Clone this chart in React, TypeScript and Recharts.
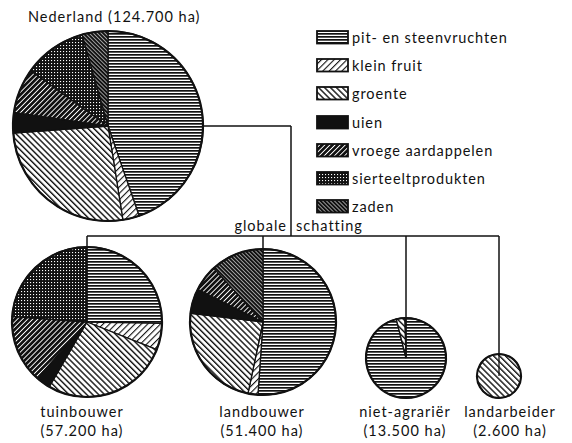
import { Legend, Pie, PieChart, Cell } from 'recharts';

const categories = [
    'pit- en steenvruchten',
    'klein fruit',
    'groente',
    'uien',
    'vroege aardappelen',
    'sierteeltprodukten',
    'zaden',
];
const patternIds = ['pit', 'klein', 'groente', 'uien', 'vroege', 'sierteelt', 'zaden'];

// shares in %
const nederland = [44.7, 2.8, 26.3, 3.5, 7.6, 10.7, 4.4];
const tuinbouwer = [25.3, 5.7, 27.4, 3.1, 14.7, 23.8, 0];
const landbouwer = [51.1, 2.2, 23.6, 5.5, 5.8, 0, 11.8];
const nietAgrarier = [96.1, 0, 3.5, 0.4, 0, 0, 0];
const landarbeider = [0, 0, 100, 0, 0, 0, 0];

const groupNames = ['tuinbouwer', 'landbouwer', 'niet-agrariër', 'landarbeider'];
const groupAreas = ['(57.200 ha)', '(51.400 ha)', '(13.500 ha)', '(2.600 ha)'];

const INK = '#111';
const FONT = 'Lato, "Open Sans", sans-serif';

const toRows = (values: number[]) =>
    values
        .map((value, i) => ({ name: categories[i], value, pattern: patternIds[i] }))
        .filter((row) => row.value > 0);

const pies = [
    { key: 'nl', values: nederland, cx: 108, cy: 126, r: 95 },
    { key: 'tb', values: tuinbouwer, cx: 87, cy: 322, r: 75 },
    { key: 'lb', values: landbouwer, cx: 263, cy: 322, r: 73 },
    { key: 'na', values: nietAgrarier, cx: 406, cy: 358, r: 40 },
    { key: 'la', values: landarbeider, cx: 499, cy: 376, r: 22 },
];
const labelX = [82, 262, 405, 510];
const busY = 236;
const trunkX = 291;

const Patterns = () => (
    <defs>
        <pattern id="pit" width="4" height="3" patternUnits="userSpaceOnUse">
            <rect width="4" height="3" fill="#fff" />
            <rect width="4" height="1.7" fill={INK} />
        </pattern>
        <pattern id="klein" width="4.5" height="4.5" patternUnits="userSpaceOnUse" patternTransform="rotate(45)">
            <rect width="4.5" height="4.5" fill="#fff" />
            <rect width="1.1" height="4.5" fill={INK} />
        </pattern>
        <pattern id="groente" width="4.2" height="4.2" patternUnits="userSpaceOnUse" patternTransform="rotate(-45)">
            <rect width="4.2" height="4.2" fill="#fff" />
            <rect width="1.4" height="4.2" fill={INK} />
        </pattern>
        <pattern id="uien" width="4" height="4" patternUnits="userSpaceOnUse">
            <rect width="4" height="4" fill={INK} />
        </pattern>
        <pattern id="vroege" width="3.6" height="3.6" patternUnits="userSpaceOnUse" patternTransform="rotate(45)">
            <rect width="3.6" height="3.6" fill={INK} />
            <rect width="0.9" height="3.6" fill="#fff" />
        </pattern>
        <pattern id="sierteelt" width="3" height="3" patternUnits="userSpaceOnUse">
            <rect width="3" height="3" fill={INK} />
            <rect width="1.1" height="1.1" fill="#fff" />
        </pattern>
        <pattern id="zaden" width="2.8" height="2.8" patternUnits="userSpaceOnUse" patternTransform="rotate(-45)">
            <rect width="2.8" height="2.8" fill={INK} />
            <rect width="0.8" height="2.8" fill="#bbb" />
        </pattern>
    </defs>
);

const LegendContent = () => (
    <div style={{ fontFamily: FONT, fontSize: 14.5, color: INK, letterSpacing: 0.9 }}>
        {categories.map((name, i) => (
            <div key={name} style={{ display: 'flex', alignItems: 'center', height: 28.3 }}>
                <svg width={34} height={15} style={{ marginRight: 2 }}>
                    <rect x={1} y={1} width={31} height={12.5} fill={`url(#${patternIds[i]})`} stroke={INK} strokeWidth={1.8} />
                </svg>
                <span>{name}</span>
            </div>
        ))}
    </div>
);

export default function App() {
    const textStyle = { fontFamily: FONT, fontSize: 14.5, fill: INK, letterSpacing: 1.0 };
    return (
        <div style={{ position: 'absolute', left: 0, top: 0, background: '#fff' }}>
            <PieChart width={572} height={443} margin={{ top: 0, right: 0, bottom: 0, left: 0 }}>
                <Patterns />
                {/* connector lines */}
                <g stroke={INK} strokeWidth={1.5} fill="none">
                    <line x1={pies[0].cx + pies[0].r} y1={pies[0].cy} x2={trunkX} y2={pies[0].cy} />
                    <line x1={trunkX} y1={pies[0].cy} x2={trunkX} y2={busY} />
                    <line x1={pies[1].cx} y1={busY} x2={pies[4].cx} y2={busY} />
                    {pies.slice(1).map((p) => (
                        <line key={p.key} x1={p.cx} y1={busY} x2={p.cx} y2={p.cy} />
                    ))}
                </g>
                {pies.map((p) => (
                    <Pie
                        key={p.key}
                        data={toRows(p.values)}
                        dataKey="value"
                        nameKey="name"
                        cx={p.cx}
                        cy={p.cy}
                        outerRadius={p.r}
                        innerRadius={0}
                        startAngle={90}
                        endAngle={-270}
                        stroke={INK}
                        strokeWidth={1.3}
                        isAnimationActive={false}
                        legendType="none"
                    >
                        {toRows(p.values).map((row) => (
                            <Cell key={row.name} fill={`url(#${row.pattern})`} />
                        ))}
                    </Pie>
                ))}
                {/* heavier outer rims */}
                {pies.map((p) => (
                    <Pie
                        key={`${p.key}-rim`}
                        data={[{ name: 'rim', value: 1 }]}
                        dataKey="value"
                        cx={p.cx}
                        cy={p.cy}
                        innerRadius={p.r}
                        outerRadius={p.r}
                        startAngle={90}
                        endAngle={-270}
                        fill="none"
                        stroke={INK}
                        strokeWidth={2.2}
                        isAnimationActive={false}
                        legendType="none"
                    />
                ))}
                <text x={28} y={22} style={textStyle}>Nederland (124.700 ha)</text>
                <text x={287} y={231} textAnchor="end" style={textStyle}>globale</text>
                <text x={296} y={231} style={textStyle}>schatting</text>
                {groupNames.map((name, i) => (
                    <g key={name}>
                        <text x={labelX[i]} y={417} textAnchor="middle" style={textStyle}>{name}</text>
                        <text x={labelX[i]} y={436} textAnchor="middle" style={textStyle}>{groupAreas[i]}</text>
                    </g>
                ))}
                <Legend
                    content={<LegendContent />}
                    wrapperStyle={{ position: 'absolute', left: 316, top: 23, width: 250 }}
                />
            </PieChart>
        </div>
    );
}
